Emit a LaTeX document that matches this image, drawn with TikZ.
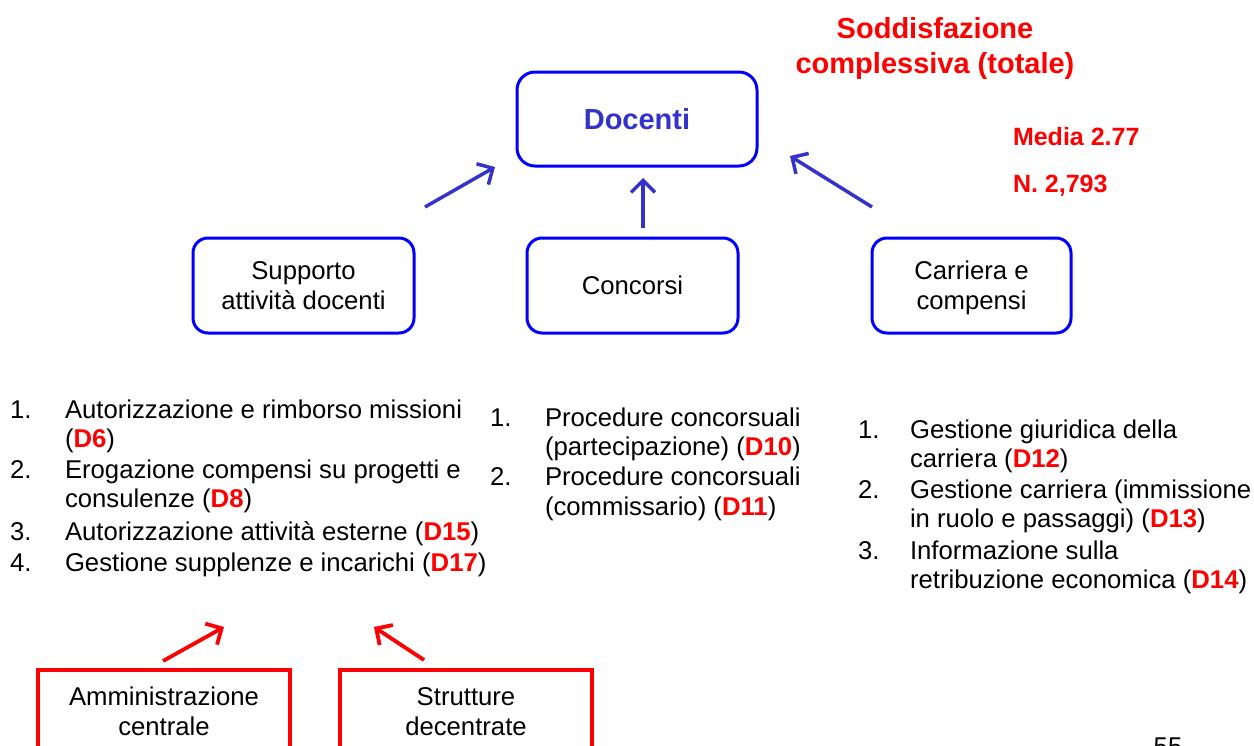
\documentclass[tikz,border=0pt]{standalone}
\usepackage{fontspec}
\setmainfont{Liberation Sans}
\usetikzlibrary{arrows.meta}
\definecolor{boxblue}{RGB}{0,0,255}
\definecolor{arrblue}{RGB}{51,51,204}
\definecolor{hred}{RGB}{255,0,0}
\newcommand{\Dref}[1]{(\textcolor{hred}{\bfseries D#1})}
\begin{document}
\begin{tikzpicture}[x=1pt,y=-1pt,
  every node/.style={inner sep=0pt, outer sep=0pt},
  body/.style={font=\fontsize{25.7}{30}\selectfont},
  bluebox/.style={draw=boxblue, line width=3pt, rounded corners=15pt, align=center, body, text depth=0pt},
  redbox/.style={draw=hred, line width=3.5pt, align=center, body, text depth=0pt},
  barr/.style={draw=arrblue, line width=3.5pt, -{Straight Barb[length=12pt,width=24pt]}},
  rarr/.style={draw=hred, line width=3.8pt, -{Straight Barb[length=12pt,width=24pt]}},
  itm/.style={anchor=base west, body},
  redbold/.style={text=hred, font=\fontsize{25}{30}\selectfont\bfseries},
  ]
\useasboundingbox (0,0) rectangle (1254,745);

% top
\node[bluebox, minimum width=240, minimum height=94, rounded corners=18pt] (doc) at (637,119)
  {\textcolor{arrblue}{\fontsize{29}{34}\selectfont\bfseries Docenti}};
\node[anchor=base, text=hred, font=\fontsize{29}{35}\selectfont\bfseries] (t1) at (935,38) {Soddisfazione};
\node[anchor=base, text=hred, font=\fontsize{29}{35}\selectfont\bfseries] (t2) at (935,73) {complessiva (totale)};
\node[anchor=base west, redbold] (media) at (1013,145) {Media 2.77};
\node[anchor=base west, redbold] (nn) at (1013,192) {N. 2,793};

% second row
\node[bluebox, minimum width=221, minimum height=95] (sup) at (303.5,285.5) {Supporto\\attività docenti};
\node[bluebox, minimum width=211, minimum height=95] (con) at (632.5,285.5) {Concorsi};
\node[bluebox, minimum width=199, minimum height=95] (car) at (971.5,285.5) {Carriera e\\compensi};

% blue arrows
\coordinate (a1s) at (425,207); \coordinate (a1e) at (495,167);
\coordinate (a2s) at (643,228); \coordinate (a2e) at (643,178);
\coordinate (a3s) at (872,207); \coordinate (a3e) at (790,156);
\draw[barr] (a1s) -- (a1e);
\draw[barr] (a2s) -- (a2e);
\draw[barr] (a3s) -- (a3e);

% left list
\node[itm] (l1n) at (10,418) {1.};
\node[itm] (l1a) at (65,418) {Autorizzazione e rimborso missioni};
\node[itm] (l1b) at (65,447) {\Dref{6}};
\node[itm] (l2n) at (10,478) {2.};
\node[itm] (l2a) at (65,478) {Erogazione compensi su progetti e};
\node[itm] (l2b) at (65,507) {consulenze \Dref{8}};
\node[itm] (l3n) at (10,540) {3.};
\node[itm] (l3a) at (65,540) {Autorizzazione attività esterne \Dref{15}};
\node[itm] (l4n) at (10,571) {4.};
\node[itm] (l4a) at (65,571) {Gestione supplenze e incarichi \Dref{17}};

% middle list
\node[itm] (m1n) at (490,426) {1.};
\node[itm] (m1a) at (545,426) {Procedure concorsuali};
\node[itm] (m1b) at (545,455) {(partecipazione) \Dref{10}};
\node[itm] (m2n) at (490,485) {2.};
\node[itm] (m2a) at (545,485) {Procedure concorsuali};
\node[itm] (m2b) at (545,515) {(commissario) \Dref{11}};

% right list
\node[itm] (r1n) at (858,438) {1.};
\node[itm] (r1a) at (910,438) {Gestione giuridica della};
\node[itm] (r1b) at (910,467) {carriera \Dref{12}};
\node[itm] (r2n) at (858,498) {2.};
\node[itm] (r2a) at (910,498) {Gestione carriera (immissione};
\node[itm] (r2b) at (910,527) {in ruolo e passaggi) \Dref{13}};
\node[itm] (r3n) at (858,559) {3.};
\node[itm] (r3a) at (910,559) {Informazione sulla};
\node[itm] (r3b) at (910,588) {retribuzione economica \Dref{14}};

% red arrows and boxes
\coordinate (b1s) at (163,661); \coordinate (b1e) at (224,627);
\coordinate (b2s) at (424,660); \coordinate (b2e) at (374,627);
\draw[rarr] (b1s) -- (b1e);
\draw[rarr] (b2s) -- (b2e);
\node[redbox, minimum width=252, minimum height=83, anchor=north] (amm) at (164,670) {Amministrazione\\centrale};
\node[redbox, minimum width=252, minimum height=83, anchor=north] (str) at (466,670) {Strutture\\decentrate};

\node[anchor=base, body] (pg) at (1168,755) {55};
\end{tikzpicture}
\end{document}
